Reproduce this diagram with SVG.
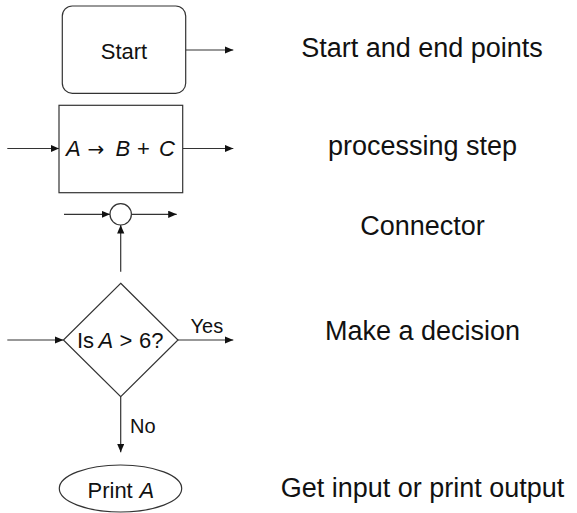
<svg xmlns="http://www.w3.org/2000/svg" width="577" height="513" viewBox="0 0 577 513">
  <style>
    .shape { fill: #ffffff; stroke: #333333; stroke-width: 1.2; }
    .edge { fill: none; stroke: #333333; stroke-width: 1.2; marker-end: url(#tip); }
    .node { font-family: "Liberation Sans", Arial, sans-serif; font-size: 22px; fill: #111111; }
    .math { font-style: italic; }
    .sym { font-family: "DejaVu Sans", sans-serif; font-size: 20px; }
    .edge-label { font-family: "Liberation Sans", Arial, sans-serif; font-size: 20px; fill: #111111; }
    .legend { font-family: "Liberation Sans", Arial, sans-serif; font-size: 27px; fill: #111111; text-anchor: middle; }
  </style>
  <defs>
    <marker id="tip" markerUnits="userSpaceOnUse" markerWidth="10" markerHeight="8" refX="8.5" refY="3.6" orient="auto">
      <path d="M0,0 L8.5,3.6 L0,7.2 z" fill="#111111"/>
    </marker>
  </defs>

  <rect width="577" height="513" fill="#ffffff"/>

  <!-- connectors -->
  <g id="connectors">
    <line class="edge" x1="185.7" y1="50" x2="233.3" y2="50"/>
    <line class="edge" x1="7.3" y1="148.5" x2="59" y2="148.5"/>
    <line class="edge" x1="182.7" y1="148.5" x2="233.3" y2="148.5"/>
    <line class="edge" x1="64" y1="214.3" x2="110" y2="214.3"/>
    <line class="edge" x1="131.4" y1="214.3" x2="176.7" y2="214.3"/>
    <line class="edge" x1="120.7" y1="271.7" x2="120.7" y2="225"/>
    <line class="edge" x1="7.3" y1="340" x2="63.4" y2="340"/>
    <line class="edge" x1="178" y1="340" x2="233.3" y2="340"/>
    <line class="edge" x1="120.7" y1="396.7" x2="120.7" y2="452.3"/>
    <text class="edge-label" x="190.5" y="332.7">Yes</text>
    <text class="edge-label" x="130" y="433.3">No</text>
  </g>

  <!-- terminal -->
  <g id="start">
    <rect class="shape" x="62.3" y="6" width="123.4" height="87.3" rx="10" ry="10"/>
    <text class="node" x="124" y="59" text-anchor="middle">Start</text>
  </g>

  <!-- process -->
  <g id="process">
    <rect class="shape" x="59" y="105.3" width="123.7" height="87.4"/>
    <text class="node" y="156">
      <tspan class="math" x="66">A</tspan>
      <tspan class="sym" x="87.5">→</tspan>
      <tspan class="math" x="115.5">B</tspan>
      <tspan x="137">+</tspan>
      <tspan class="math" x="159">C</tspan>
    </text>
  </g>

  <!-- junction -->
  <g id="junction">
    <circle class="shape" cx="120.7" cy="214.3" r="10.7"/>
  </g>

  <!-- decision -->
  <g id="decision">
    <polygon class="shape" points="120.7,283.3 178,340 120.7,396.7 63.4,340"/>
    <text class="node" y="347.7">
      <tspan x="77">Is</tspan>
      <tspan class="math" x="98.5">A</tspan>
      <tspan x="119.5">&gt;</tspan>
      <tspan x="139">6?</tspan>
    </text>
  </g>

  <!-- input / output -->
  <g id="io">
    <ellipse class="shape" cx="120.5" cy="488.5" rx="61.2" ry="23.5"/>
    <text class="node" y="498.3">
      <tspan x="87.5">Print</tspan>
      <tspan class="math" x="139.5">A</tspan>
    </text>
  </g>

  <!-- legend -->
  <g id="legend">
    <text class="legend" x="422" y="56.7">Start and end points</text>
    <text class="legend" x="422.5" y="155">processing step</text>
    <text class="legend" x="422.5" y="235">Connector</text>
    <text class="legend" x="422.5" y="340">Make a decision</text>
    <text class="legend" x="422.5" y="496.7">Get input or print output</text>
  </g>
</svg>
